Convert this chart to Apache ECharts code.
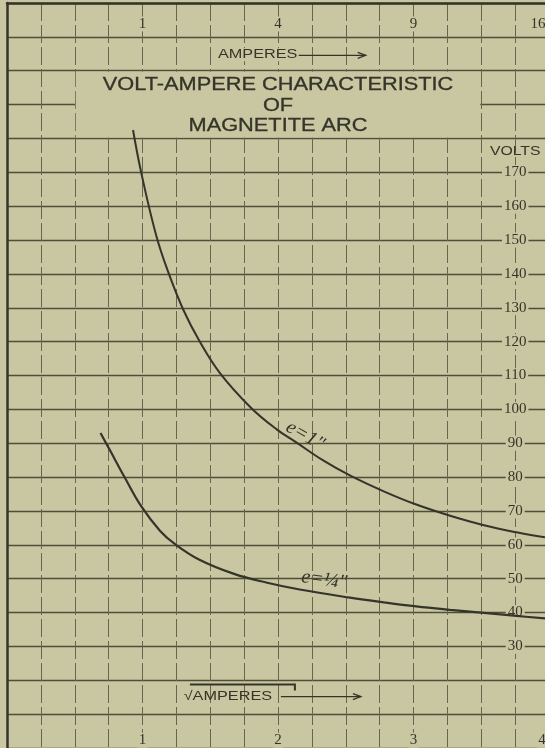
<!DOCTYPE html>
<html><head><meta charset="utf-8">
<script src="https://cdn.jsdelivr.net/npm/echarts@6/dist/echarts.min.js"></script>
<style>html,body{margin:0;padding:0;background:#c8c7a1;}#c{width:545px;height:748px;}</style>
</head><body><div id="c"></div>
<script>
// x = square root of amperes, y = volts
const curve1Name = 'e=1"';
const curve1X = [0.93, 0.99, 1.10, 1.19, 1.30, 1.42, 1.57, 1.80, 1.99, 2.14, 2.33, 2.53, 2.78, 3.02, 3.27, 3.52, 3.76, 3.97];
const curve1V = [182.5, 170, 151.5, 140.5, 129.5, 120.2, 110.8, 100.5, 94.1, 90.1, 85.0, 80.5, 75.8, 71.9, 68.6, 65.8, 63.7, 62.2];

const curve2Name = 'e=¼"';
const curve2X = [0.69, 0.76, 0.87, 0.99, 1.13, 1.24, 1.42, 1.67, 1.92, 2.16, 2.53, 2.78, 3.02, 3.27, 3.52, 3.76, 3.97];
const curve2V = [93, 87.9, 79.8, 71.4, 64.1, 60.2, 55.6, 51.5, 48.8, 46.8, 44.4, 43.0, 41.8, 40.8, 39.9, 39.0, 38.3];

const bottomTickPos = [1, 2, 3, 4];
const bottomTickLabels = ['1', '2', '3', '4'];
const topTickPos = [1, 2, 3, 4];
const topTickLabels = ['1', '4', '9', '16'];
const voltTicks = [170, 160, 150, 140, 130, 120, 110, 100, 90, 80, 70, 60, 50, 40, 30];
const voltAxisX = 3.75;

const titleLines = ['VOLT-AMPERE CHARACTERISTIC', 'OF', 'MAGNETITE ARC'];
const topAxisName = 'AMPERES';
const bottomAxisName = '√AMPERES';
const voltName = 'VOLTS';

const paper = '#c8c7a1';
const ink = '#34342a';
const gridInk = '#4e4e3a';

const chart = echarts.init(document.getElementById('c'), null, {renderer: 'canvas'});
chart.setOption({
  animation: false,
  backgroundColor: paper,
  grid: {left: 7, right: 0, top: 3, bottom: 0},
  xAxis: [
    {type: 'value', min: 0, max: 3.97, interval: 0.25,
      axisLine: {show: false}, axisTick: {show: false}, axisLabel: {show: false},
      splitLine: {show: true, lineStyle: {color: '#66664f', width: 1, type: [18, 4]}}},
    {type: 'value', position: 'top', min: 0, max: 3.97,
      axisLine: {show: true, onZero: false, lineStyle: {color: ink, width: 2.5}},
      axisTick: {show: false}, axisLabel: {show: false}, splitLine: {show: false}}
  ],
  yAxis: {type: 'value', min: 0, max: 220, interval: 10,
    axisLine: {show: true, onZero: false, lineStyle: {color: ink, width: 2.5}},
    axisTick: {show: false}, axisLabel: {show: false},
    splitLine: {show: true, lineStyle: {color: gridInk, width: 1.4}}},
  series: [
    {name: curve1Name, type: 'line', xAxisIndex: 0, z: 3, showSymbol: false, smooth: 0.4,
      lineStyle: {color: ink, width: 2}, data: curve1X.map((x, i) => [x, curve1V[i]])},
    {name: curve2Name, type: 'line', xAxisIndex: 0, z: 3, showSymbol: false, smooth: 0.4,
      lineStyle: {color: ink, width: 2.2}, data: curve2X.map((x, i) => [x, curve2V[i]])}
  ]
});

const P = (x, v) => chart.convertToPixel({xAxisIndex: 0, yAxisIndex: 0}, [x, v]);
const g = [];
const serif = '"Liberation Serif", "DejaVu Serif", serif';
const sans = '"Liberation Sans", Arial, sans-serif';

// title box (clears grid between sqrt-amp 0.5..3.5 and 180..200 V)
const b1 = P(0.5, 200), b2 = P(3.5, 180);
g.push({type: 'rect', z: 1, shape: {x: b1[0] + 1, y: b1[1] + 1, width: b2[0] - b1[0] - 2, height: b2[1] - b1[1] - 2}, style: {fill: paper}});

// title
const tc = P(2.0, 0)[0];
const tY = [P(0, 195.7)[1], P(0, 189.6)[1], P(0, 183.6)[1]];
titleLines.forEach((t, i) => {
  g.push({type: 'text', z: 5, x: tc, y: tY[i], scaleX: 1.21,
    style: {text: t, font: '18px ' + sans, fill: ink, align: 'center', verticalAlign: 'middle', stroke: ink, lineWidth: 0.3}});
});

// volt labels
const vx = P(voltAxisX, 0)[0];
voltTicks.forEach(v => {
  const p = P(voltAxisX, v);
  g.push({type: 'text', z: 1, x: p[0], y: p[1],
    style: {text: String(v), font: '15px ' + serif, fill: ink, align: 'center', verticalAlign: 'middle',
      backgroundColor: paper, padding: [0, 2]}});
});
g.push({type: 'text', z: 1, x: vx, y: P(0, 176.3)[1], scaleX: 1.17,
  style: {text: voltName, font: '13.5px ' + sans, fill: ink, align: 'center', verticalAlign: 'middle'}});

// bottom tick labels
bottomTickPos.forEach((x, i) => {
  const p = P(x, 2.3);
  const off = i === bottomTickLabels.length - 1 ? -7 : 0;
  g.push({type: 'text', z: 1, x: p[0] + off, y: p[1],
    style: {text: bottomTickLabels[i], font: '15px ' + serif, fill: ink, align: 'center', verticalAlign: 'middle',
      backgroundColor: paper, padding: [0, 1]}});
});
// top tick labels
topTickPos.forEach((x, i) => {
  const p = P(x, 213.8);
  const off = i === topTickLabels.length - 1 ? -11 : 0;
  g.push({type: 'text', z: 1, x: p[0] + off, y: p[1],
    style: {text: topTickLabels[i], font: '15px ' + serif, fill: ink, align: 'center', verticalAlign: 'middle',
      backgroundColor: paper, padding: [0, 1]}});
});

// top axis name with arrow
const ta = P(1.85, 204.7);
g.push({type: 'text', z: 5, x: ta[0], y: ta[1], scaleX: 1.3,
  style: {text: topAxisName, font: '12.5px ' + sans, fill: ink, align: 'center', verticalAlign: 'middle',
    backgroundColor: paper, padding: [0, 1]}});
const tax1 = ta[0] + 41, tax2 = ta[0] + 108;
g.push({type: 'polyline', z: 5, shape: {points: [[tax1, ta[1] + 0.5], [tax2, ta[1] + 0.5]]}, style: {stroke: ink, lineWidth: 1.3}});
g.push({type: 'polyline', z: 5, shape: {points: [[tax2 - 8, ta[1] - 2.5], [tax2, ta[1] + 0.5], [tax2 - 8, ta[1] + 3.5]]}, style: {stroke: ink, lineWidth: 1.3, fill: null}});

// bottom axis name with radical and arrow
const ba = P(1.63, 15.2);
g.push({type: 'text', z: 5, x: ba[0], y: ba[1], scaleX: 1.25,
  style: {text: bottomAxisName, font: '13px ' + sans, fill: ink, align: 'center', verticalAlign: 'middle'}});
g.push({type: 'polyline', z: 5, shape: {points: [[ba[0] - 38, ba[1] - 12], [ba[0] + 67, ba[1] - 12], [ba[0] + 67, ba[1] - 6]]}, style: {stroke: ink, lineWidth: 2, fill: null}});
const bax1 = ba[0] + 53, bax2 = ba[0] + 133;
g.push({type: 'polyline', z: 5, shape: {points: [[bax1, ba[1]], [bax2, ba[1]]]}, style: {stroke: ink, lineWidth: 1.3}});
g.push({type: 'polyline', z: 5, shape: {points: [[bax2 - 8, ba[1] - 3], [bax2, ba[1]], [bax2 - 8, ba[1] + 3]]}, style: {stroke: ink, lineWidth: 1.3, fill: null}});

// curve labels
const l1 = P(2.2, 92.2);
g.push({type: 'text', z: 4, x: l1[0], y: l1[1], rotation: -0.52,
  style: {text: curve1Name, font: 'italic 20px ' + serif, fill: ink, align: 'center', verticalAlign: 'middle'}});
const l2 = P(2.34, 49.6);
g.push({type: 'text', z: 4, x: l2[0], y: l2[1], rotation: -0.14,
  style: {text: curve2Name, font: 'italic 20px ' + serif, fill: ink, align: 'center', verticalAlign: 'middle'}});

chart.setOption({graphic: {elements: g}});
</script>
</body></html>
